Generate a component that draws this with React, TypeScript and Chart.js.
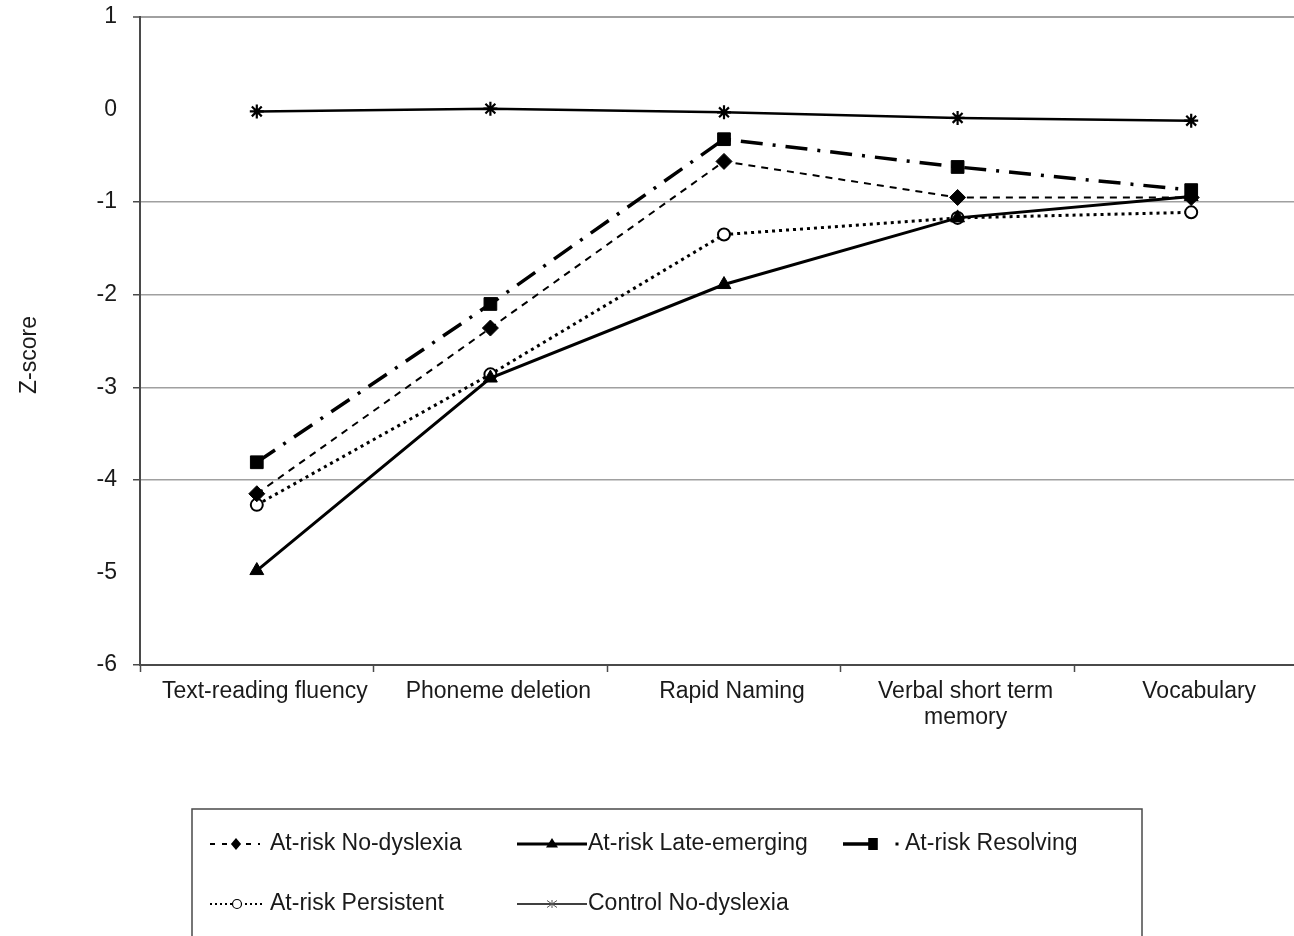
import React, { useEffect, useRef } from 'react';
import { Chart, registerables } from 'chart.js';

Chart.register(...registerables);

// ---------- data ----------
const categories: (string | string[])[] = [
  'Text-reading fluency',
  'Phoneme deletion',
  'Rapid Naming',
  ['Verbal short term', 'memory'],
  'Vocabulary',
];

const seriesNames = [
  'At-risk No-dyslexia',
  'At-risk Late-emerging',
  'At-risk Resolving',
  'At-risk Persistent',
  'Control No-dyslexia',
];

const atRiskNoDyslexia = [-4.15, -2.36, -0.56, -0.95, -0.95];
const atRiskLateEmerging = [-4.98, -2.9, -1.89, -1.17, -0.94];
const atRiskResolving = [-3.81, -2.1, -0.32, -0.62, -0.87];
const atRiskPersistent = [-4.27, -2.86, -1.35, -1.17, -1.11];
const controlNoDyslexia = [-0.02, 0.01, -0.03, -0.09, -0.12];

const yMin = -6;
const yMax = 1;
const yStep = 1;
const yTitle = 'Z-score';
const yHiddenGridValues = [0, -5];

// ---------- styling ----------
const FONT = "'Liberation Sans', Arial, Helvetica, sans-serif";
const INK = '#1a1a1a';
const AXIS = '#4a4a4a';
const GRID = '#a0a0a0';

function drawMarker(ctx: CanvasRenderingContext2D, kind: string, x: number, y: number, r: number) {
  ctx.save();
  ctx.setLineDash([]);
  ctx.fillStyle = '#000';
  ctx.strokeStyle = '#000';
  ctx.lineWidth = 1.2;
  ctx.beginPath();
  if (kind === 'diamond') {
    ctx.moveTo(x, y - r);
    ctx.lineTo(x + r * 0.85, y);
    ctx.lineTo(x, y + r);
    ctx.lineTo(x - r * 0.85, y);
    ctx.closePath();
    ctx.fill();
  } else if (kind === 'triangle') {
    ctx.moveTo(x, y - r);
    ctx.lineTo(x + r, y + r * 0.6);
    ctx.lineTo(x - r, y + r * 0.6);
    ctx.closePath();
    ctx.fill();
  } else if (kind === 'square') {
    ctx.rect(x - r * 0.8, y - r, r * 1.6, r * 2);
    ctx.fill();
  } else if (kind === 'circle') {
    ctx.arc(x, y, r, 0, Math.PI * 2);
    ctx.fillStyle = '#fff';
    ctx.fill();
    ctx.stroke();
  } else if (kind === 'star') {
    ctx.strokeStyle = '#555';
    ctx.lineWidth = 1;
    ctx.moveTo(x - r, y - r * 0.7);
    ctx.lineTo(x + r, y + r * 0.7);
    ctx.moveTo(x - r, y + r * 0.7);
    ctx.lineTo(x + r, y - r * 0.7);
    ctx.moveTo(x, y - r * 0.8);
    ctx.lineTo(x, y + r * 0.8);
    ctx.stroke();
  }
  ctx.restore();
}

const legendItems = [
  { name: seriesNames[0], x1: 210, x2: 260, mx: 236, y: 844, dash: [5, 7], lw: 2, marker: 'diamond', mr: 6, tx: 270 },
  { name: seriesNames[1], x1: 517, x2: 587, mx: 552, y: 844, dash: [], lw: 3, marker: 'triangle', mr: 6, tx: 588 },
  { name: seriesNames[2], x1: 843, x2: 870, mx: 873, y: 844, dash: [], lw: 3.5, marker: 'square', mr: 6, tx: 905, dot: 897 },
  { name: seriesNames[3], x1: 210, x2: 263, mx: 237, y: 904, dash: [2, 3], lw: 2, marker: 'circle', mr: 4.5, tx: 270 },
  { name: seriesNames[4], x1: 517, x2: 587, mx: 552, y: 904, dash: [], lw: 1.5, marker: 'star', mr: 5, tx: 588 },
];

const overlayPlugin = {
  id: 'overlay',
  afterDraw(chart: any) {
    const ctx: CanvasRenderingContext2D = chart.ctx;
    // y axis title
    ctx.save();
    ctx.fillStyle = INK;
    ctx.font = `23px ${FONT}`;
    ctx.translate(30, 355);
    ctx.rotate(-Math.PI / 2);
    ctx.textAlign = 'center';
    ctx.textBaseline = 'middle';
    ctx.fillText(yTitle, 0, 0);
    ctx.restore();

    // legend box
    ctx.save();
    ctx.strokeStyle = AXIS;
    ctx.lineWidth = 1.5;
    ctx.strokeRect(192, 809, 1142 - 192, 160);
    ctx.restore();

    for (const it of legendItems) {
      ctx.save();
      ctx.strokeStyle = '#000';
      ctx.lineWidth = it.lw;
      ctx.setLineDash(it.dash);
      ctx.beginPath();
      ctx.moveTo(it.x1, it.y);
      ctx.lineTo(it.x2, it.y);
      ctx.stroke();
      ctx.restore();
      if ((it as any).dot) {
        ctx.save();
        ctx.fillStyle = '#000';
        ctx.fillRect((it as any).dot - 1.5, it.y - 1.5, 3, 3);
        ctx.restore();
      }
      drawMarker(ctx, it.marker, it.mx, it.y, it.mr);
      ctx.save();
      ctx.fillStyle = INK;
      ctx.font = `23px ${FONT}`;
      ctx.textAlign = 'left';
      ctx.textBaseline = 'middle';
      ctx.fillText(it.name, it.tx, it.y);
      ctx.restore();
    }
  },
};

export default function App() {
  const canvasRef = useRef<HTMLCanvasElement | null>(null);

  useEffect(() => {
    const canvas = canvasRef.current;
    if (!canvas) return;
    const chart = new Chart(canvas, {
      type: 'line',
      data: {
        labels: categories as any,
        datasets: [
          {
            label: seriesNames[0],
            data: atRiskNoDyslexia,
            borderColor: '#000',
            backgroundColor: '#000',
            borderWidth: 2,
            borderDash: [7, 6],
            pointStyle: 'rectRot',
            pointRadius: 8,
            pointBackgroundColor: '#000',
            pointBorderColor: '#000',
            pointBorderWidth: 1,
            tension: 0,
          },
          {
            label: seriesNames[1],
            data: atRiskLateEmerging,
            borderColor: '#000',
            backgroundColor: '#000',
            borderWidth: 3,
            pointStyle: 'triangle',
            pointRadius: 8,
            pointBackgroundColor: '#000',
            pointBorderColor: '#000',
            pointBorderWidth: 1,
            tension: 0,
          },
          {
            label: seriesNames[2],
            data: atRiskResolving,
            borderColor: '#000',
            backgroundColor: '#000',
            borderWidth: 3.5,
            borderDash: [22, 10, 3, 10],
            pointStyle: 'rect',
            pointRadius: 9,
            pointBackgroundColor: '#000',
            pointBorderColor: '#000',
            pointBorderWidth: 1,
            tension: 0,
          },
          {
            label: seriesNames[3],
            data: atRiskPersistent,
            borderColor: '#000',
            backgroundColor: '#fff',
            borderWidth: 3,
            borderDash: [3, 4],
            pointStyle: 'circle',
            pointRadius: 6,
            pointBackgroundColor: '#fff',
            pointBorderColor: '#000',
            pointBorderWidth: 2,
            tension: 0,
          },
          {
            label: seriesNames[4],
            data: controlNoDyslexia,
            borderColor: '#000',
            backgroundColor: '#000',
            borderWidth: 2.5,
            pointStyle: 'star',
            pointRadius: 7,
            pointBorderColor: '#000',
            pointBorderWidth: 2.2,
            tension: 0,
          },
        ],
      },
      options: {
        responsive: false,
        animation: false,
        layout: { padding: { left: 0, right: 12, top: 17, bottom: 171 } },
        plugins: {
          legend: { display: false },
          tooltip: { enabled: false },
          title: { display: false },
        },
        scales: {
          x: {
            type: 'category',
            offset: true,
            grid: {
              drawOnChartArea: false,
              offset: true,
              tickLength: 7,
              color: AXIS,
              tickColor: AXIS,
              tickWidth: 1.5,
            },
            border: { display: true, color: AXIS, width: 2 },
            ticks: {
              color: INK,
              font: { family: FONT, size: 23, lineHeight: 1.15 },
              padding: 6,
              labelOffset: 8,
              maxRotation: 0,
              minRotation: 0,
              autoSkip: false,
            },
            afterFit: (scale: any) => {
              scale.height = 100;
              scale.paddingLeft = 0;
              scale.paddingRight = 0;
            },
          },
          y: {
            type: 'linear',
            min: yMin,
            max: yMax,
            ticks: {
              stepSize: yStep,
              color: INK,
              font: { family: FONT, size: 23 },
              padding: 16,
            },
            grid: {
              color: (ctx: any) => {
                const v = ctx.tick ? ctx.tick.value : null;
                if (v === null || yHiddenGridValues.includes(v) || v === yMin) return 'rgba(0,0,0,0)';
                return GRID;
              },
              lineWidth: (ctx: any) => (ctx.tick && ctx.tick.value === yMax ? 2 : 1.5),
              tickColor: (ctx: any) => {
                const v = ctx.tick ? ctx.tick.value : null;
                if (v !== null && yHiddenGridValues.includes(v)) return 'rgba(0,0,0,0)';
                return AXIS;
              },
              tickLength: 7,
              tickWidth: 1.5,
            },
            border: { display: true, color: AXIS, width: 2 },
            afterFit: (scale: any) => {
              scale.width = 140;
              scale.paddingTop = 0;
              scale.paddingBottom = 0;
            },
          },
        },
      },
      plugins: [overlayPlugin],
    });
    return () => {
      chart.destroy();
    };
  }, []);

  return (
    <div
      style={{
        position: 'fixed',
        left: 0,
        top: 0,
        width: 1294,
        height: 936,
        overflow: 'hidden',
        background: '#fff',
      }}
    >
      <canvas ref={canvasRef} width={1320} height={936} style={{ width: 1320, height: 936, display: 'block' }} />
    </div>
  );
}
